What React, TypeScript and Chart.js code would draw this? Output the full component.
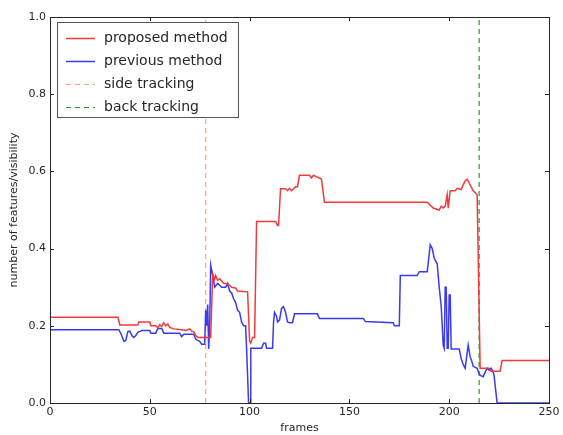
import React, { useEffect, useRef } from "react";
import { Chart, registerables } from "chart.js";

Chart.register(...registerables);

const proposedFrames = [0, 34, 35, 44, 44.5, 50, 50.5, 53, 54, 55, 56, 57, 58, 59, 60, 62, 66, 68, 70, 71, 72, 73, 74, 80.5, 81.5, 82.5, 83, 84, 85, 87, 89, 90, 91, 93, 94, 99, 100, 100.5, 101.5, 102.5, 103.5, 113, 114, 114.5, 115.5, 118, 119, 120, 121, 123, 124, 125, 130, 131, 132, 134, 136, 137.5, 189, 192, 195, 196, 197, 198, 199, 199.5, 200.5, 203, 204, 206, 207, 208, 209, 210, 212, 214, 215.5, 220, 221, 225.5, 226.5, 250];
const proposedValues = [0.222, 0.222, 0.202, 0.202, 0.21, 0.21, 0.2, 0.2, 0.195, 0.203, 0.198, 0.208, 0.2, 0.205, 0.196, 0.192, 0.19, 0.188, 0.192, 0.186, 0.185, 0.175, 0.17, 0.17, 0.335, 0.32, 0.33, 0.318, 0.322, 0.31, 0.308, 0.305, 0.3, 0.298, 0.29, 0.288, 0.16, 0.155, 0.17, 0.17, 0.47, 0.47, 0.46, 0.46, 0.555, 0.555, 0.55, 0.556, 0.55, 0.56, 0.56, 0.59, 0.59, 0.583, 0.59, 0.585, 0.58, 0.52, 0.52, 0.505, 0.5, 0.51, 0.505, 0.51, 0.54, 0.505, 0.55, 0.55, 0.556, 0.553, 0.565, 0.575, 0.58, 0.57, 0.55, 0.54, 0.09, 0.09, 0.082, 0.082, 0.11, 0.11];

const previousFrames = [0, 34.5, 35.5, 37, 38, 39, 40, 41, 42, 43, 44, 46, 50, 50.5, 53, 54, 56, 57, 65, 66, 67, 72, 73, 75, 76, 77.5, 78, 78.5, 79, 79.5, 80, 80.5, 81.5, 82.5, 84, 85, 86, 88, 89, 90, 91, 92, 93, 94, 95, 96, 97, 98, 98.5, 99.5, 100.3, 100.6, 106, 107, 108, 108.5, 111.5, 112, 112.5, 113.5, 114, 115, 116, 117, 118, 119, 120, 121.5, 122.5, 134, 135, 157, 158, 172, 172.5, 175, 175.5, 184, 185, 189, 190.5, 191.5, 192.5, 194, 195, 196, 197, 197.5, 198, 198.5, 199, 199.5, 200, 200.5, 201, 205, 206, 207, 208, 209, 209.5, 210.5, 211.5, 212, 214, 215, 216, 217, 218, 219, 220, 221, 222, 222.5, 224, 250];
const previousValues = [0.19, 0.19, 0.18, 0.16, 0.162, 0.185, 0.186, 0.175, 0.17, 0.175, 0.183, 0.188, 0.188, 0.181, 0.181, 0.193, 0.193, 0.181, 0.181, 0.172, 0.178, 0.178, 0.165, 0.16, 0.152, 0.152, 0.24, 0.2, 0.255, 0.14, 0.2, 0.357, 0.33, 0.3, 0.31, 0.305, 0.3, 0.3, 0.31, 0.29, 0.285, 0.27, 0.26, 0.24, 0.235, 0.21, 0.2, 0.2, 0.14, 0.0, 0.0, 0.142, 0.142, 0.155, 0.155, 0.142, 0.142, 0.21, 0.235, 0.225, 0.21, 0.215, 0.245, 0.25, 0.235, 0.21, 0.208, 0.208, 0.231, 0.231, 0.219, 0.219, 0.211, 0.208, 0.2, 0.2, 0.33, 0.33, 0.34, 0.34, 0.41, 0.4, 0.375, 0.36, 0.3, 0.25, 0.15, 0.142, 0.3, 0.3, 0.142, 0.142, 0.28, 0.28, 0.14, 0.14, 0.115, 0.1, 0.09, 0.13, 0.15, 0.12, 0.105, 0.095, 0.09, 0.075, 0.07, 0.068, 0.08, 0.09, 0.085, 0.09, 0.082, 0.07, 0, 0];

const sideTrackingFrame = 78;
const backTrackingFrame = 215;

const xTicks = [0, 50, 100, 150, 200, 250];
const yTicks = [0, 0.2, 0.4, 0.6, 0.8, 1.0];

const FONT = "'DejaVu Sans', sans-serif";
const INK = "#262626";

const zip = (xs: number[], ys: number[]) => xs.map((x, i) => ({ x, y: ys[i] }));

const framePlugin = {
  id: "frameTicks",
  afterDatasetsDraw(chart: any) {
    const { ctx, chartArea, scales } = chart;
    const { left, right, top, bottom } = chartArea;
    const x = scales.x;
    const y = scales.y;
    ctx.save();
    ctx.strokeStyle = INK;
    ctx.lineWidth = 1;
    ctx.setLineDash([]);
    ctx.beginPath();
    const L = 4;
    xTicks.forEach((v) => {
      const px = Math.round(x.getPixelForValue(v)) + 0.5;
      ctx.moveTo(px, bottom);
      ctx.lineTo(px, bottom - L);
      ctx.moveTo(px, top);
      ctx.lineTo(px, top + L);
    });
    yTicks.forEach((v) => {
      const py = Math.round(y.getPixelForValue(v)) + 0.5;
      ctx.moveTo(left, py);
      ctx.lineTo(left + L, py);
      ctx.moveTo(right, py);
      ctx.lineTo(right - L, py);
    });
    ctx.stroke();
    ctx.strokeRect(Math.round(left) + 0.5, Math.round(top) + 0.5, Math.round(right - left), Math.round(bottom - top));
    ctx.restore();
  },
  afterDraw(chart: any) {
    const { ctx } = chart;
    const bx = 57, by = 22, bw = 181, bh = 95;
    ctx.save();
    ctx.fillStyle = "#ffffff";
    ctx.fillRect(bx, by, bw, bh);
    ctx.strokeStyle = "#555";
    ctx.lineWidth = 1;
    ctx.setLineDash([]);
    ctx.strokeRect(bx + 0.5, by + 0.5, bw, bh);
    ctx.font = `14px ${FONT}`;
    ctx.textBaseline = "middle";
    ctx.textAlign = "left";
    chart.data.datasets.forEach((ds: any, i: number) => {
      const cy = by + 16 + i * 23;
      ctx.strokeStyle = ds.borderColor;
      ctx.lineWidth = ds.borderWidth;
      ctx.setLineDash(ds.borderDash || []);
      ctx.beginPath();
      ctx.moveTo(66, cy + 0.5);
      ctx.lineTo(95, cy + 0.5);
      ctx.stroke();
      ctx.fillStyle = INK;
      ctx.fillText(ds.label, 104, cy);
    });
    ctx.restore();
  },
};

export default function App() {
  const ref = useRef<HTMLCanvasElement>(null);
  useEffect(() => {
    if (!ref.current) return;
    const chart = new Chart(ref.current, {
      type: "line",
      data: {
        datasets: [
          { label: "proposed method", data: zip(proposedFrames, proposedValues), borderColor: "#f23a3a", borderWidth: 1.5, pointRadius: 0, tension: 0 },
          { label: "previous method", data: zip(previousFrames, previousValues), borderColor: "#3a3af0", borderWidth: 1.5, pointRadius: 0, tension: 0 },
          { label: "side tracking", data: [{ x: sideTrackingFrame, y: 0 }, { x: sideTrackingFrame, y: 1 }], borderColor: "#f5a27a", borderWidth: 1.2, borderDash: [5, 4], pointRadius: 0 },
          { label: "back tracking", data: [{ x: backTrackingFrame, y: 0 }, { x: backTrackingFrame, y: 1 }], borderColor: "#2e952e", borderWidth: 1.2, borderDash: [5, 4], pointRadius: 0 },
        ],
      },
      options: {
        responsive: false,
        animation: false,
        devicePixelRatio: 1,
        layout: { padding: { left: 0, top: 17, right: 14, bottom: 0 } },
        plugins: { legend: { display: false }, tooltip: { enabled: false } },
        scales: {
          x: {
            type: "linear",
            min: 0,
            max: 250,
            afterBuildTicks: (s: any) => { s.ticks = xTicks.map((v) => ({ value: v })); },
            afterFit: (s: any) => { s.height = 32; },
            grid: { display: false, drawTicks: false },
            border: { display: false },
            ticks: { padding: 3, color: INK, font: { family: FONT, size: 11 }, callback: (v: any) => String(v), maxRotation: 0 },
            title: { display: true, text: "frames", color: INK, font: { family: FONT, size: 11 }, padding: { top: 0, bottom: 0 } },
          },
          y: {
            type: "linear",
            min: 0,
            max: 1,
            afterBuildTicks: (s: any) => { s.ticks = yTicks.map((v) => ({ value: v })); },
            afterFit: (s: any) => { s.width = 50; },
            grid: { display: false, drawTicks: false },
            border: { display: false },
            ticks: { padding: 4, color: INK, font: { family: FONT, size: 11 }, callback: (v: any) => Number(v).toFixed(1) },
            title: { display: true, text: "number of features/visibility", color: INK, font: { family: FONT, size: 11 }, padding: { top: 8, bottom: 0 } },
          },
        },
      },
      plugins: [framePlugin],
    });
    return () => chart.destroy();
  }, []);
  return (
    <div style={{ position: "fixed", left: 0, top: 0, width: 563, height: 435, background: "#fff" }}>
      <canvas ref={ref} width={563} height={435} />
    </div>
  );
}
